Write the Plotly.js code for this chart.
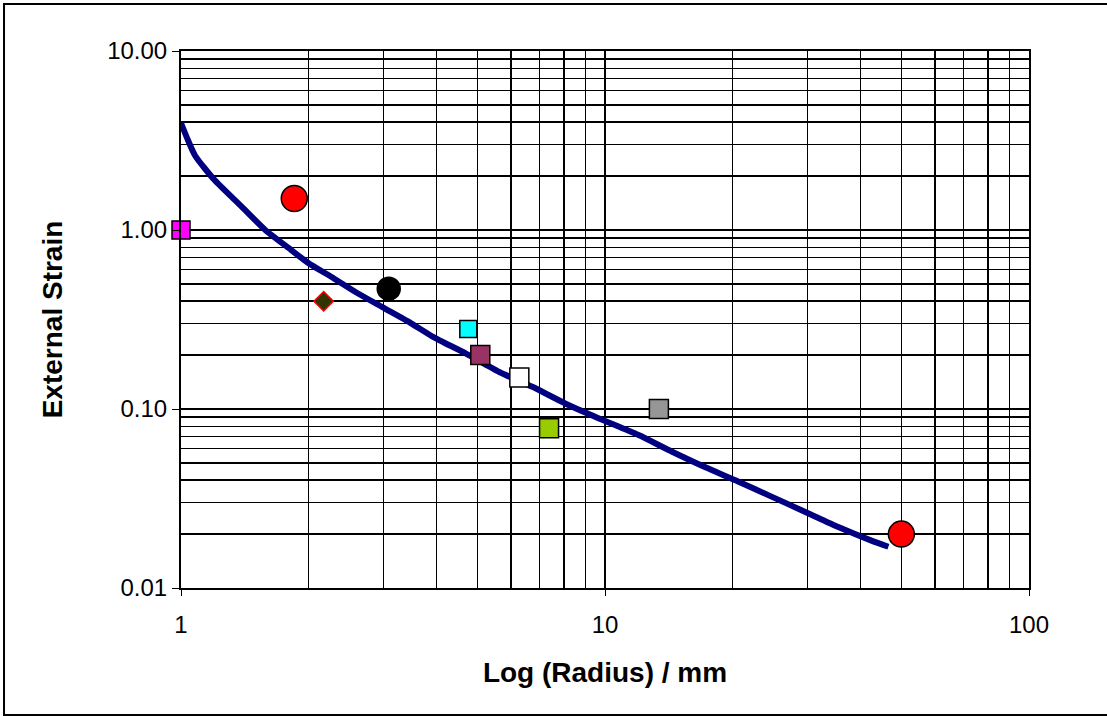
<!DOCTYPE html>
<html>
<head>
<meta charset="utf-8">
<script src="https://cdn.plot.ly/plotly-3.0.1.min.js"></script>
<style>
  html, body { margin: 0; padding: 0; background: #fff; }
  #chart { width: 1107px; height: 716px; }
</style>
</head>
<body>
<div id="chart"></div>
<script>
// Fitted curve
const curveX = [1.0, 1.04, 1.08, 1.2, 1.39, 1.58, 1.82, 2.0, 2.26, 2.61, 3.02, 3.49, 3.92, 4.70, 5.63, 6.74, 8.08, 9.68, 12.0, 14.4, 17.2, 20.6, 24.7, 29.6, 35.5, 42.5, 46.6];
const curveY = [3.96, 3.15, 2.60, 1.90, 1.35, 1.00, 0.773, 0.652, 0.548, 0.443, 0.365, 0.301, 0.254, 0.204, 0.161, 0.133, 0.107, 0.0886, 0.0715, 0.0577, 0.0474, 0.0394, 0.0324, 0.0267, 0.0219, 0.0184, 0.0170];

// Measured points
const pointX = [1.0, 1.85, 2.17, 3.09, 4.76, 5.08, 6.28, 7.38, 13.4, 50.0];
const pointY = [1.0, 1.5, 0.40, 0.47, 0.28, 0.20, 0.15, 0.078, 0.10, 0.020];
const pointSymbols = ['square', 'circle', 'diamond', 'circle', 'square', 'square', 'square', 'square', 'square', 'circle'];
const pointFill = ['#FF00FF', '#FF0000', '#333300', '#000000', '#00FFFF', '#993366', '#FFFFFF', '#99CC00', '#969696', '#FF0000'];
const pointLine = ['#000000', '#000000', '#FF0000', '#000000', '#000000', '#000000', '#000000', '#000000', '#000000', '#000000'];
const pointSize = [18, 26, 15, 23, 17, 19, 19, 19, 19, 26];

const xTickVals = [1, 10, 100];
const xTickText = ['1', '10', '100'];
const yTickVals = [0.01, 0.1, 1, 10];
const yTickText = ['0.01', '0.10', '1.00', '10.00'];

const traces = [{
  x: curveX, y: curveY, type: 'scatter', mode: 'lines',
  line: { color: '#000080', width: 6, shape: 'spline', smoothing: 0.6 }, hoverinfo: 'skip', showlegend: false
}];
for (let i = 0; i < pointX.length; i++) {
  traces.push({
    x: [pointX[i]], y: [pointY[i]], type: 'scatter', mode: 'markers',
    marker: { symbol: pointSymbols[i], color: pointFill[i], size: pointSize[i],
              line: { color: pointLine[i], width: 1.5 } },
    cliponaxis: false, showlegend: false
  });
}

const fontFam = '"Liberation Sans", Arial, sans-serif';
const gridW = 1.5;
const layout = {
  width: 1107, height: 716,
  margin: { l: 181, r: 78, t: 51, b: 128 },
  paper_bgcolor: '#fff', plot_bgcolor: '#fff',
  showlegend: false,
  xaxis: {
    type: 'log', range: [0, 2],
    tickmode: 'array', tickvals: xTickVals, ticktext: xTickText,
    ticks: 'outside', ticklen: 6, tickcolor: '#000', tickwidth: 1,
    ticklabelstandoff: 8,
    showgrid: true, gridcolor: '#000', gridwidth: gridW,
    minor: { dtick: 'D1', showgrid: true, gridcolor: '#000', gridwidth: gridW, ticks: '' },
    showline: true, linecolor: '#000', linewidth: 2, mirror: true,
    zeroline: false,
    tickfont: { family: fontFam, size: 24, color: '#000' },
    title: { text: 'Log (Radius) / mm', font: { family: fontFam, size: 28, color: '#000', weight: 'bold' }, standoff: 26 },
    automargin: false
  },
  yaxis: {
    type: 'log', range: [-2, 1],
    tickmode: 'array', tickvals: yTickVals, ticktext: yTickText,
    ticks: 'outside', ticklen: 7, tickcolor: '#000', tickwidth: 1,
    showgrid: true, gridcolor: '#000', gridwidth: gridW,
    minor: { dtick: 'D1', showgrid: true, gridcolor: '#000', gridwidth: gridW, ticks: '' },
    showline: true, linecolor: '#000', linewidth: 2, mirror: true,
    zeroline: false,
    tickfont: { family: fontFam, size: 24, color: '#000' },
    title: { text: 'External Strain', font: { family: fontFam, size: 28, color: '#000', weight: 'bold' }, standoff: 36 },
    automargin: false
  },
  shapes: [{
    type: 'rect', xref: 'paper', yref: 'paper',
    x0: -0.2087, x1: 1.12, y0: -0.2365, y1: 1.0875,
    line: { color: '#000', width: 2 }, fillcolor: 'rgba(0,0,0,0)', layer: 'below'
  }]
};

Plotly.newPlot('chart', traces, layout, { displayModeBar: false, staticPlot: true });
</script>
</body>
</html>
